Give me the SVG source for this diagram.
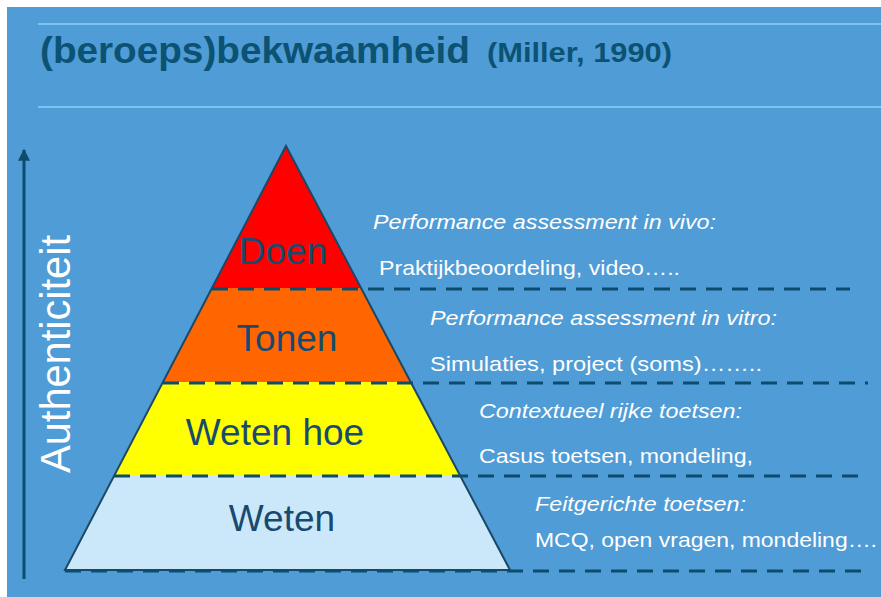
<svg xmlns="http://www.w3.org/2000/svg" width="881" height="597" viewBox="0 0 881 597">
<defs>
<style>
.bg{fill:#4f9cd6}
.rule{stroke:#7ec3f0;stroke-width:2}
.title{font-family:"Liberation Sans",Arial,sans-serif;font-weight:bold;fill:#0c5273}
.lvl{font-family:"Liberation Sans",Arial,sans-serif;font-size:37px;fill:#174a6e;text-anchor:middle}
.note{font-family:"Liberation Sans",Arial,sans-serif;font-size:21px;fill:#ffffff}
.it{font-style:italic;font-size:20px}
.dash{stroke:#0e4c6e;stroke-width:3;stroke-dasharray:16 10;fill:none}
.edge{stroke:#1a4866;stroke-width:2;fill:none;stroke-linejoin:miter}
</style>
<marker id="ah" viewBox="0 0 10 10" refX="9" refY="5" markerWidth="4" markerHeight="4" orient="auto" markerUnits="strokeWidth">
<path d="M0,0 L10,5 L0,10 z" fill="#0e4c6e"/>
</marker>
</defs>
<rect x="0" y="0" width="881" height="597" fill="#ffffff"/>
<rect class="bg" x="7" y="7" width="874" height="590"/>
<line class="rule" x1="38" y1="24" x2="881" y2="24"/>
<line class="rule" x1="38" y1="107" x2="881" y2="107"/>
<g id="title">
<text class="title" x="40" y="63" font-size="37" textLength="430" lengthAdjust="spacingAndGlyphs">(beroeps)bekwaamheid</text>
<text class="title" x="487" y="62" font-size="27" textLength="185" lengthAdjust="spacingAndGlyphs">(Miller, 1990)</text>
</g>
<g id="axis">
<line x1="24" y1="579" x2="24" y2="150" stroke="#0e4c6e" stroke-width="3" marker-end="url(#ah)"/>
<text x="0" y="0" transform="translate(70,354) rotate(-90)" font-family="Liberation Sans,Arial,sans-serif" font-size="42" fill="#ffffff" text-anchor="middle" textLength="238" lengthAdjust="spacingAndGlyphs">Authenticiteit</text>
</g>
<g id="weten">
<polygon points="113.2,476 460.3,476 510,570 65,570" fill="#cbe8fb"/>
<text class="lvl" x="282" y="531">Weten</text>
</g>
<g id="weten-hoe">
<polygon points="162.4,382 410.7,382 460.3,476 113.2,476" fill="#ffff00"/>
<text class="lvl" x="275" y="445">Weten hoe</text>
</g>
<g id="tonen">
<polygon points="211.6,288 361,288 410.7,382 162.4,382" fill="#ff6600"/>
<text class="lvl" x="287" y="351">Tonen</text>
</g>
<g id="doen">
<polygon points="286,146 361,288 211.6,288" fill="#ff0000"/>
<text class="lvl" x="283" y="264">Doen</text>
</g>
<polygon class="edge" points="286,146 510,570 65,570"/>
<g id="connectors">
<line class="dash" x1="212" y1="289" x2="850" y2="289"/>
<line class="dash" x1="163" y1="383" x2="868" y2="383"/>
<line class="dash" x1="114" y1="476" x2="858" y2="476"/>
<line class="dash" x1="65" y1="571" x2="866" y2="571"/>
</g>
<g id="notes-doen">
<text class="note it" x="373" y="229" textLength="343" lengthAdjust="spacingAndGlyphs">Performance assessment in vivo:</text>
<text class="note" x="379" y="275" textLength="301" lengthAdjust="spacingAndGlyphs">Praktijkbeoordeling,  video…..</text>
</g>
<g id="notes-tonen">
<text class="note it" x="430" y="325" textLength="347" lengthAdjust="spacingAndGlyphs">Performance assessment in vitro:</text>
<text class="note" x="430" y="371" textLength="332" lengthAdjust="spacingAndGlyphs">Simulaties, project (soms)……..</text>
</g>
<g id="notes-weten-hoe">
<text class="note it" x="479" y="418" textLength="263" lengthAdjust="spacingAndGlyphs">Contextueel rijke toetsen:</text>
<text class="note" x="479" y="463" textLength="274" lengthAdjust="spacingAndGlyphs">Casus toetsen, mondeling,</text>
</g>
<g id="notes-weten">
<text class="note it" x="535" y="511" textLength="211" lengthAdjust="spacingAndGlyphs">Feitgerichte toetsen:</text>
<text class="note" x="535" y="547" textLength="342" lengthAdjust="spacingAndGlyphs">MCQ, open vragen, mondeling….</text>
</g>
</svg>
